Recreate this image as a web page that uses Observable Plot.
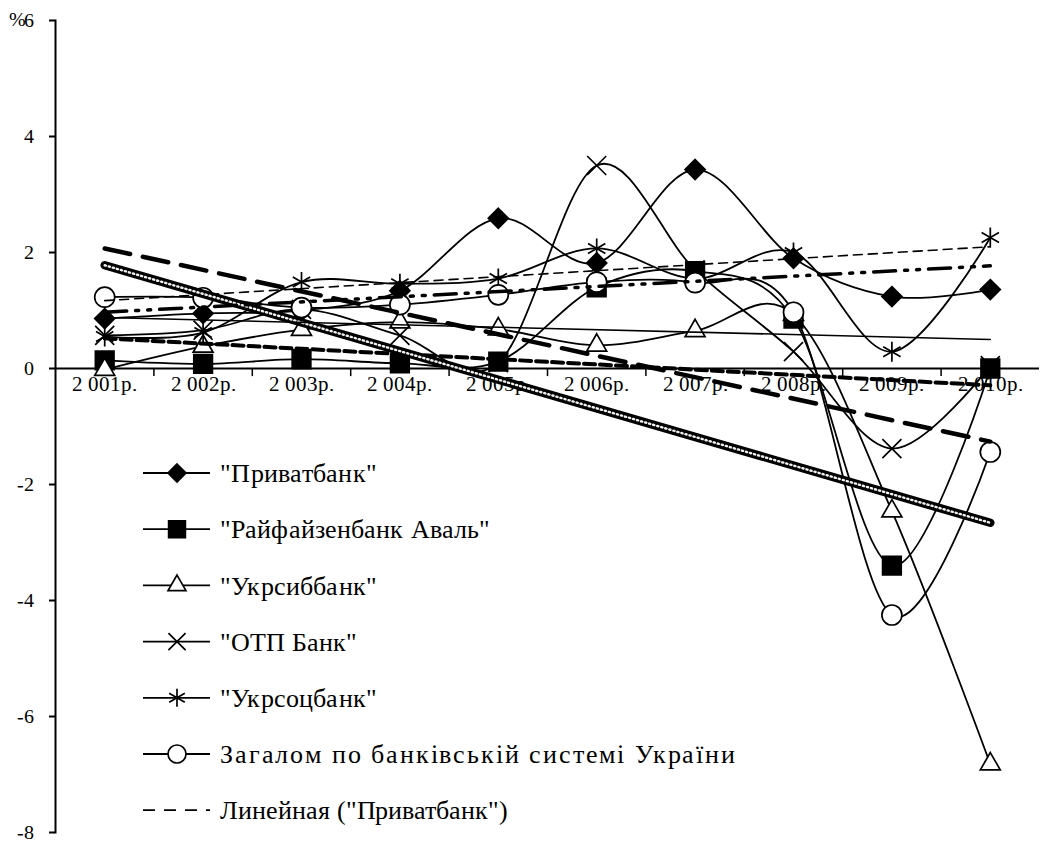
<!DOCTYPE html>
<html><head><meta charset="utf-8">
<script src="https://cdn.jsdelivr.net/npm/d3@7"></script>
<script src="https://cdn.jsdelivr.net/npm/@observablehq/plot@0.6"></script>
<style>
@font-face{font-family:"TNRLocal";src:local("Liberation Serif"),local("LiberationSerif"),local("LiberationSerif-Regular");}
body{margin:0;background:#fff;font-family:"TNRLocal","Liberation Serif",serif;}
#p{position:absolute;left:0;top:0;width:1040px;height:848px;}
#leg{position:absolute;left:0;top:0;width:1040px;height:848px;pointer-events:none;}
#pct{position:absolute;left:0;top:0;pointer-events:none;}
</style></head><body>
<div id="p"></div>
<div id="leg"></div>
<svg id="pct" width="60" height="40"><text x="9" y="26" font-size="20" font-family="TNRLocal, Liberation Serif, serif">%</text></svg>
<script>
// ---- data ----
const years = [2001, 2002, 2003, 2004, 2005, 2006, 2007, 2008, 2009, 2010];
const yearLabels = ["2 001р.", "2 002р.", "2 003р.", "2 004р.", "2 005р.", "2 006р.", "2 007р.", "2 008р.", "2 009р.", "2 010р."];
const yTicks = [-8, -6, -4, -2, 0, 2, 4, 6];
const seriesNames = ['"Приватбанк"', '"Райфайзенбанк Аваль"', '"Укрсиббанк"', '"ОТП  Банк"', '"Укрсоцбанк"', 'Загалом по банківській  системі України'];
const privat = [0.86, 0.95, 1.0, 1.34, 2.59, 1.82, 3.43, 1.9, 1.24, 1.36];
const raif   = [0.14, 0.08, 0.16, 0.09, 0.12, 1.4, 1.68, 0.86, -3.4, 0.0];
const ukrsib = [-0.02, 0.38, 0.67, 0.8, 0.68, 0.4, 0.65, 0.93, -2.46, -6.82];
const otp    = [0.57, 0.66, 1.02, 0.57, 0.1, 3.5, 1.7, 0.29, -1.38, 0.05];
const ukrsoc = [0.55, 0.62, 1.49, 1.46, 1.55, 2.07, 1.55, 2.0, 0.29, 2.26];
const total  = [1.23, 1.22, 1.05, 1.1, 1.27, 1.49, 1.48, 0.97, -4.25, -1.44];
// linear trend lines (value at 2001, value at 2010)
const trendStart = [1.17, 0.52, 1.78, 0.88, 0.97, 2.07];
const trendEnd   = [2.1, -0.29, -2.66, 0.5, 1.77, -1.26];
const legendExtra = 'Линейная ("Приватбанк")';

// ---- styles ----
const FONT = "TNRLocal, Liberation Serif, serif";
const seriesValues = [privat, raif, ukrsib, otp, ukrsoc, total];
const markerStyle = [
  {symbol: "diamond2", r: 9, fill: "black"},
  {symbol: "square", r: 10.5, fill: "black"},
  {symbol: "triangle2", r: 9.5, fill: "white"},
  {symbol: "times", r: 8.7, fill: "none"},
  {symbol: "asterisk", r: 9.5, fill: "none"},
  {symbol: "circle", r: 10, fill: "white"}
];
const trendStyle = [
  {strokeWidth: 1.6, strokeDasharray: "9,6"},
  {strokeWidth: 4, strokeDasharray: "11,5"},
  null, // patterned
  {strokeWidth: 1.6},
  {strokeWidth: 3.5, strokeDasharray: "22,9,3,9,3,9"},
  {strokeWidth: 4.5, strokeDasharray: "26,13"}
];
const legendWidths = [157, 270, 157, 137, 157, 515, 288];

const rows = seriesNames.flatMap((name, i) => years.map((yr, j) => ({series: name, idx: i, year: yr, value: seriesValues[i][j]})));
const trends = seriesNames.flatMap((name, i) => [
  {series: name, idx: i, year: years[0], value: trendStart[i]},
  {series: name, idx: i, year: years[years.length - 1], value: trendEnd[i]}
]);
const boundaries = years.slice(0, -1).map(y => y + 0.5);

const marks = [];
marks.push(Plot.ruleY([0], {stroke: "black", strokeWidth: 2.2}));
marks.push(Plot.ruleX(boundaries, {x: d => d, y1: 0, y2: -0.14, stroke: "black", strokeWidth: 1.5}));
marks.push(Plot.text(years, {x: d => d, y: 0, dy: 16, text: (d, i) => yearLabels[i], fontSize: 21, fill: "black", fontFamily: FONT}));
seriesNames.forEach((name, i) => {
  const data = rows.filter(r => r.idx === i);
  marks.push(Plot.line(data, {x: "year", y: "value", curve: "cardinal", stroke: "black", strokeWidth: 1.8}));
  const m = markerStyle[i];
  marks.push(Plot.dot(data, {x: "year", y: "value", symbol: m.symbol, r: m.r, fill: m.fill, stroke: "black", strokeWidth: 1.7}));
});
seriesNames.forEach((name, i) => {
  const data = trends.filter(r => r.idx === i);
  if (trendStyle[i] === null) {
    marks.push(Plot.line(data, {x: "year", y: "value", stroke: "black", strokeWidth: 8.5, strokeLinecap: "round"}));
    marks.push(Plot.line(data, {x: "year", y: "value", stroke: "#f2f2f2", strokeWidth: 2.4, strokeDasharray: "1.2,3"}));
  } else {
    marks.push(Plot.line(data, {x: "year", y: "value", stroke: "black", ...trendStyle[i]}));
  }
});
marks.push(Plot.frame({anchor: "left", stroke: "black", strokeWidth: 2}));
marks.push(Plot.axisY({ticks: yTicks, tickSize: 6, tickPadding: 16, fontSize: 20, strokeWidth: 2, label: null, fontFamily: FONT,
  tickFormat: d => String(d)}));

const chart = Plot.plot({
  width: 1040, height: 848,
  marginLeft: 55, marginRight: 1, marginTop: 20, marginBottom: 16,
  style: {fontFamily: FONT, fontSize: "20px"},
  x: {domain: [2000.5, 2010.5], axis: null},
  y: {domain: [-8, 6], axis: null},
  marks
});
document.getElementById("p").appendChild(chart);

// ---- legend overlay ----
const legendItems = seriesNames.map((n, i) => ({label: n, marker: markerStyle[i], dash: null}))
  .concat([{label: legendExtra, marker: null, dash: "12,9"}]);
const svg = d3.select("#leg").append("svg").attr("width", 1040).attr("height", 848).style("display", "block");
const symMap = {diamond2: d3.symbolDiamond2, square: d3.symbolSquare, triangle2: d3.symbolTriangle2, times: d3.symbolTimes, asterisk: d3.symbolAsterisk, circle: d3.symbolCircle};
const g = svg.selectAll("g").data(legendItems).join("g")
  .attr("transform", (d, i) => `translate(0,${473 + i * 56.2})`);
g.append("line").attr("x1", 143).attr("x2", 210).attr("y1", 0).attr("y2", 0)
  .attr("stroke", "black").attr("stroke-width", 1.8).attr("stroke-dasharray", d => d.dash);
g.filter(d => d.marker).append("path")
  .attr("transform", "translate(177,0)")
  .attr("d", d => d3.symbol(symMap[d.marker.symbol], Math.PI * (d.marker.r * 0.9) ** 2)())
  .attr("fill", d => d.marker.fill).attr("stroke", "black").attr("stroke-width", 1.7);
g.append("text").attr("x", 220).attr("y", 0).attr("dy", "0.35em")
  .attr("font-family", FONT).attr("font-size", 26)
  .attr("textLength", (d, i) => legendWidths[i]).attr("lengthAdjust", "spacing")
  .text(d => d.label);
</script></body></html>
